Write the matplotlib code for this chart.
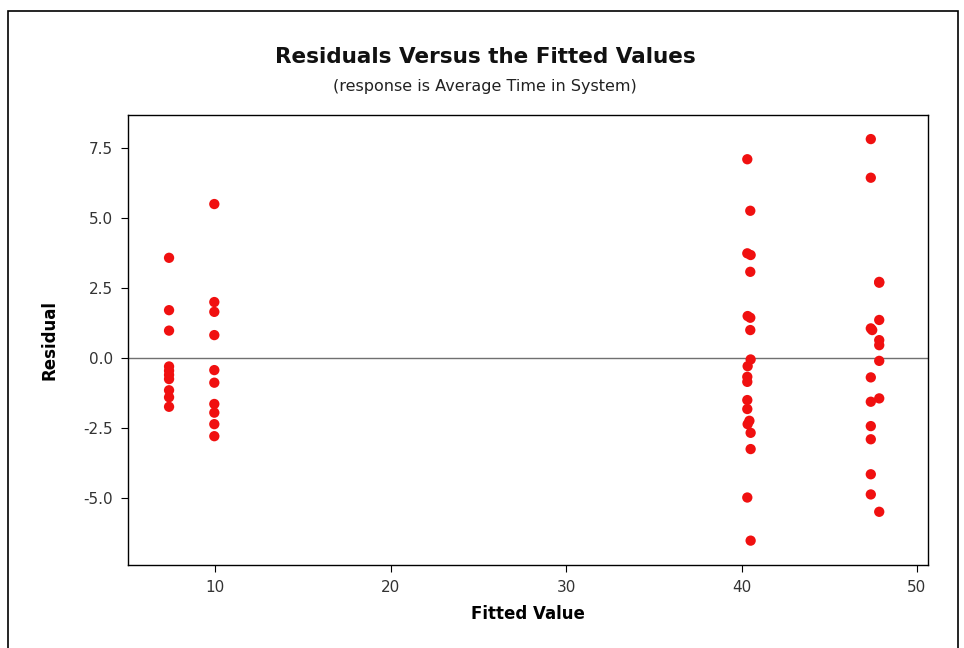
import numpy as np
import matplotlib
matplotlib.use('Agg')
import matplotlib.pyplot as plt
from matplotlib.patches import Rectangle

# fitted values and residuals
fit_a = [7.37] * 10
res_a = [3.58, 1.71, 0.98, -0.30, -0.45, -0.60, -0.75, -1.15, -1.40, -1.74]

fit_b = [9.95] * 10
res_b = [5.50, 2.00, 1.65, 0.82, -0.43, -0.88, -1.64, -1.95, -2.36, -2.79]

fit_c = [40.33, 40.50, 40.33, 40.52, 40.50, 40.35, 40.50, 40.50, 40.52, 40.35,
         40.33, 40.33, 40.33, 40.33, 40.45, 40.35, 40.52, 40.52, 40.33, 40.52]
res_c = [7.10, 5.26, 3.74, 3.68, 3.08, 1.50, 1.44, 1.00, -0.05, -0.29,
         -0.67, -0.85, -1.50, -1.82, -2.24, -2.36, -2.67, -3.25, -4.98, -6.52]

fit_d = [47.37, 47.37, 47.85, 47.85, 47.85, 47.37, 47.45, 47.85, 47.85, 47.85,
         47.37, 47.37, 47.85, 47.37, 47.37, 47.37, 47.37, 47.85]
res_d = [7.82, 6.44, 2.69, 2.72, 1.36, 1.06, 1.00, 0.64, 0.46, -0.10,
         -0.69, -1.56, -1.44, -2.43, -2.90, -4.15, -4.87, -5.49]

fitted = fit_a + fit_b + fit_c + fit_d
resid = res_a + res_b + res_c + res_d

xticks = [10, 20, 30, 40, 50]
yticks = [-5.0, -2.5, 0.0, 2.5, 5.0, 7.5]

plt.rcParams['font.family'] = ['DejaVu Sans']

fig = plt.figure(figsize=(9.64, 6.48), dpi=100)
# outer frame
fig.patches.append(Rectangle((8/964, -0.05), 950/964, 1.05 - 11/648, transform=fig.transFigure,
                             fill=False, edgecolor='black', linewidth=1.2))

ax = fig.add_axes([128/964, 1 - 565/648, 800/964, 450/648])
ax.axhline(0, color='#707070', linewidth=1.0, zorder=1)
ax.scatter(fitted, resid, s=55, color='#f01010', edgecolors='none', zorder=3)

ax.set_xlim(5.03, 50.63)
ax.set_ylim(-7.39, 8.68)
ax.set_xticks(xticks)
ax.set_yticks(yticks)
ax.set_yticklabels(['%.1f' % v for v in yticks])
ax.tick_params(direction='out', length=5, labelsize=11, pad=6, colors='black', labelcolor='#333333')
for s in ax.spines.values():
    s.set_linewidth(1.0)

ax.set_xlabel('Fitted Value', fontsize=12, fontweight='bold', labelpad=7)
ax.set_ylabel('Residual', fontsize=12, fontweight='bold', labelpad=18)

fig.text(0.503, 1 - 57/648, 'Residuals Versus the Fitted Values', ha='center', va='center',
         fontsize=15.5, fontweight='bold', color='#111111')
fig.text(0.503, 1 - 87/648, '(response is Average Time in System)', ha='center', va='center',
         fontsize=11.5, color='#222222')

fig.savefig('out.png', dpi=100)
